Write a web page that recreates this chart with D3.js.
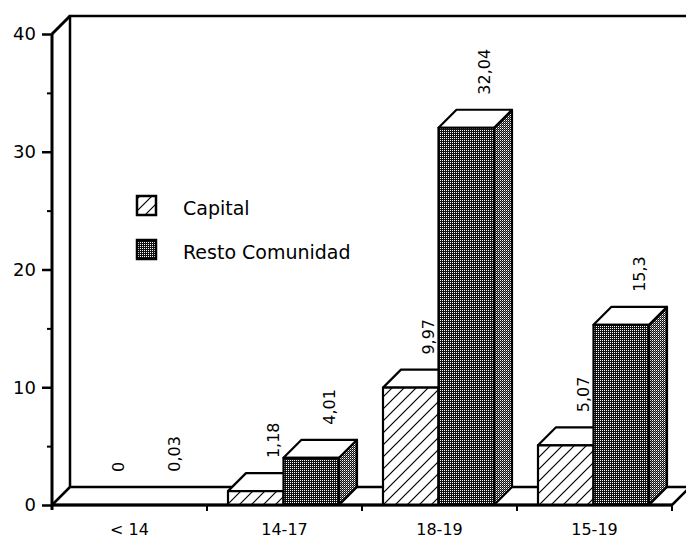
<!DOCTYPE html>
<html><head><meta charset="utf-8">
<script src="https://cdn.jsdelivr.net/npm/d3@7/dist/d3.min.js"></script>
<style>
html,body{margin:0;padding:0;background:#fff;}
svg{display:block;font-family:"DejaVu Sans",Verdana,sans-serif;}
</style></head>
<body><svg id="c" width="686" height="541"></svg>
<script>
const categories = ["< 14", "14-17", "18-19", "15-19"];
const series = ["Capital", "Resto Comunidad"];
const capital = [0, 1.18, 9.97, 5.07];
const resto = [0.03, 4.01, 32.04, 15.3];
const yTicks = [0, 10, 20, 30, 40];
const yMinorTicks = [5, 15, 25, 35];

const svg = d3.select("#c");
const defs = svg.append("defs");
const D = 18; // depth offset

// patterns
const hatch = defs.append("pattern").attr("id","hatch").attr("patternUnits","userSpaceOnUse")
  .attr("width",12).attr("height",12);
hatch.append("rect").attr("width",12).attr("height",12).attr("fill","#fff");
hatch.append("path").attr("d","M0,12L12,0M-3,3L3,-3M9,15L15,9").attr("stroke","#000").attr("stroke-width",1.2);

function stipple(id, extra){
  const p = defs.append("pattern").attr("id",id).attr("patternUnits","userSpaceOnUse")
    .attr("width",2).attr("height",2);
  p.append("rect").attr("width",2).attr("height",2).attr("fill","#111");
  p.append("rect").attr("width",1).attr("height",1).attr("fill","#fff");
  if (extra) p.append("rect").attr("x",1).attr("y",1).attr("width",1).attr("height",1).attr("fill",extra);
  return p;
}
stipple("dots", null);
stipple("dotsSide", "#777");

const y = d3.scaleLinear().domain([0, 40]).range([505, 34]);
const x = d3.scaleBand().domain(categories).range([52, 672]);
const xs = d3.scaleBand().domain(series).range([21, 132]);

const y0 = y(0);
const xL = x.range()[0], xR = x.range()[1];

// back wall
svg.append("path")
  .attr("d", `M${xL+D},${y0-D}V${y(40)-D}H${xR+D+20}`)
  .attr("fill","none").attr("stroke","#000").attr("stroke-width",2.5);
// left wall top diagonal
svg.append("path")
  .attr("d", `M${xL},${y(40)}L${xL+D},${y(40)-D}`)
  .attr("fill","none").attr("stroke","#000").attr("stroke-width",3);
// floor
svg.append("path")
  .attr("d", `M${xL},${y0}L${xL+D},${y0-D}H${xR+D}L${xR},${y0}Z`)
  .attr("fill","#fff").attr("stroke","#000").attr("stroke-width",2.5).attr("stroke-linejoin","round");

// bars
const data = [];
categories.forEach((c,i)=>{
  data.push({cat:c, s:series[0], v:capital[i]});
  data.push({cat:c, s:series[1], v:resto[i]});
});
const bw = xs.bandwidth();
const bars = svg.append("g");
data.forEach(d=>{
  const x0 = x(d.cat) + xs(d.s), x1 = x0 + bw, yt = y(d.v);
  if (y0 - yt >= 1) {
    const g = bars.append("g").attr("stroke","#000").attr("stroke-width",2.2).attr("stroke-linejoin","round");
    const front = d.s === series[0] ? "url(#hatch)" : "url(#dots)";
    const side = d.s === series[0] ? "url(#hatch)" : "url(#dotsSide)";
    g.append("path").attr("d",`M${x1},${y0}L${x1+D},${y0-D}V${yt-D}L${x1},${yt}Z`).attr("fill",side);
    g.append("path").attr("d",`M${x0},${yt}L${x0+D},${yt-D}H${x1+D}L${x1},${yt}Z`).attr("fill","#fff");
    g.append("rect").attr("x",x0).attr("y",yt).attr("width",bw).attr("height",y0-yt).attr("fill",front);
  }
  svg.append("text")
    .attr("transform",`translate(${x0+bw/2+D},${yt-D-15}) rotate(-90)`)
    .attr("dy","0.35em").attr("font-size",16).attr("text-anchor","start")
    .text(String(d.v).replace(".", ","));
});

// y axis
const ya = svg.append("g").attr("transform",`translate(${xL},0)`)
  .call(d3.axisLeft(y).tickValues(yTicks).tickSize(10).tickPadding(6).tickFormat(d3.format("d")));
ya.select(".domain").remove();
ya.selectAll("line").attr("stroke-width",2.5);
ya.selectAll("text").attr("font-size",18).attr("font-family","DejaVu Sans").attr("fill","#000");
const ym = svg.append("g").attr("transform",`translate(${xL},0)`)
  .call(d3.axisLeft(y).tickValues(yMinorTicks).tickSize(5).tickFormat(""));
ym.select(".domain").remove();
ym.selectAll("line").attr("stroke-width",2);
svg.append("line").attr("x1",xL).attr("x2",xL).attr("y1",y(40)).attr("y2",y0+5)
  .attr("stroke","#000").attr("stroke-width",3);

// x axis
const xa = svg.append("g").attr("transform",`translate(0,${y0})`)
  .call(d3.axisBottom(x).tickSize(0).tickPadding(19));
xa.select(".domain").remove();
xa.selectAll("text").attr("font-size",16).attr("font-family","DejaVu Sans").attr("fill","#000");
svg.append("line").attr("x1",xL).attr("x2",xR).attr("y1",y0).attr("y2",y0)
  .attr("stroke","#000").attr("stroke-width",3);
svg.append("g").selectAll("line").data(categories).join("line")
  .attr("x1",d=>x(d)+x.bandwidth()).attr("x2",d=>x(d)+x.bandwidth())
  .attr("y1",y0).attr("y2",y0+6).attr("stroke","#000").attr("stroke-width",2);

// legend
const leg = svg.append("g");
const legFill = ["url(#hatch)", "url(#dots)"];
series.forEach((s,i)=>{
  const ly = 196 + i*44;
  leg.append("rect").attr("x",137).attr("y",ly).attr("width",19).attr("height",19)
    .attr("fill",legFill[i]).attr("stroke","#000").attr("stroke-width",2.5);
  leg.append("text").attr("x",183).attr("y",ly+19).attr("font-size",19).text(s);
});
</script></body></html>
